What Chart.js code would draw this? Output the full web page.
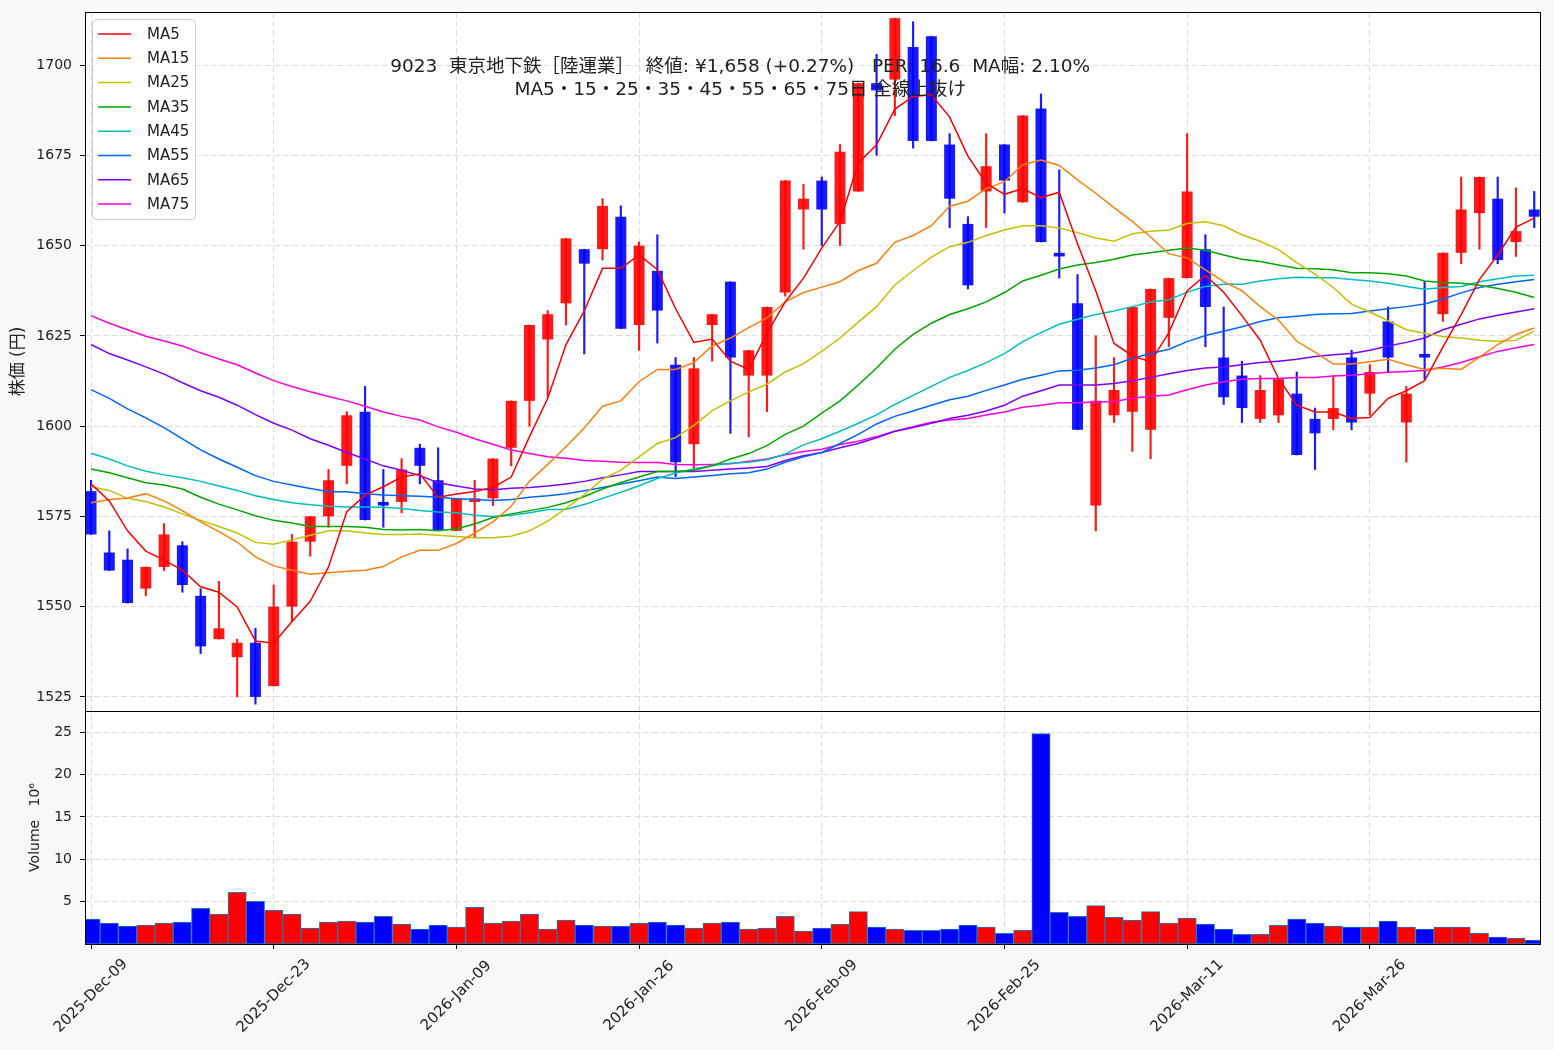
<!DOCTYPE html>
<html lang="ja">
  <head>
    <meta charset="UTF-8" />
    <title>9023 東京地下鉄</title>
    <style>
      * {
        margin: 0;
        padding: 0;
        box-sizing: border-box;
      }
      body {
        background: #f8f8f8;
      }
      #grafico {
        width: 1554px;
        height: 1050px;
      }
    </style>
  </head>
  <body>
    <div id="grafico">
      <canvas id="candles" width="1554" height="1050"></canvas>
    </div>

    <script src="https://cdn.jsdelivr.net/npm/chart.js"></script>
    <script>
      // x axis: trading-day index -> date label
      const tickIdx = [0, 10, 20, 30, 40, 50, 60, 70]
      const tickLabels = ['2025-Dec-09', '2025-Dec-23', '2026-Jan-09', '2026-Jan-26',
        '2026-Feb-09', '2026-Feb-25', '2026-Mar-11', '2026-Mar-26']
      const priceTicks = [1525, 1550, 1575, 1600, 1625, 1650, 1675, 1700]
      const volTicks = [5, 10, 15, 20, 25]

      const opens = [1582,1565,1563,1555,1561,1567,1553,1541,1536,1540,
        1528,1550,1568,1575,1589,1604,1579,1579,1594,1585,
        1571,1579,1580,1594,1607,1624,1634,1649,1649,1658,
        1628,1643,1617,1595,1628,1640,1614,1614,1637,1660,
        1668,1656,1665,1695,1696,1705,1708,1678,1656,1665,
        1678,1662,1688,1648,1634,1578,1603,1604,1599,1630,
        1641,1649,1619,1614,1602,1603,1609,1602,1602,1619,
        1609,1629,1601,1620,1631,1648,1659,1663,1651,1660]
      const highs = [1585,1571,1566,1561,1573,1568,1555,1557,1541,1544,
        1556,1570,1575,1588,1604,1611,1588,1591,1595,1594,
        1580,1585,1591,1607,1628,1632,1652,1649,1663,1661,
        1651,1653,1619,1619,1631,1640,1621,1633,1668,1667,
        1669,1678,1695,1703,1713,1712,1708,1681,1658,1681,
        1678,1686,1692,1671,1642,1625,1619,1633,1638,1641,
        1681,1653,1633,1618,1614,1613,1615,1605,1614,1621,
        1617,1633,1611,1640,1648,1669,1669,1669,1666,1665]
      const lows = [1570,1560,1551,1553,1560,1554,1537,1541,1525,1523,
        1528,1546,1564,1572,1584,1574,1572,1576,1584,1571,
        1571,1569,1578,1589,1600,1608,1628,1620,1646,1627,
        1621,1623,1586,1588,1618,1598,1597,1604,1636,1649,
        1650,1650,1665,1675,1686,1677,1679,1655,1638,1655,
        1659,1662,1651,1641,1599,1571,1601,1593,1591,1622,
        1641,1622,1606,1601,1601,1601,1592,1588,1599,1599,
        1603,1615,1590,1613,1629,1645,1649,1645,1647,1655]
      const closes = [1570,1560,1551,1561,1570,1556,1539,1544,1540,1525,
        1550,1568,1575,1585,1603,1574,1578,1588,1589,1571,
        1580,1580,1591,1607,1628,1631,1652,1645,1661,1627,
        1650,1632,1590,1616,1631,1619,1621,1633,1668,1663,
        1660,1676,1695,1693,1713,1679,1679,1663,1639,1672,
        1668,1686,1651,1647,1599,1607,1610,1633,1638,1641,
        1665,1633,1608,1605,1610,1613,1592,1598,1605,1601,
        1615,1619,1609,1619,1648,1660,1669,1646,1654,1658]
      // volume in millions of shares
      const volumes = [2.93,2.46,2.11,2.23,2.46,2.58,4.22,3.52,6.09,5.04,
        3.98,3.52,1.88,2.58,2.70,2.58,3.28,2.34,1.76,2.23,
        1.99,4.34,2.46,2.70,3.52,1.76,2.81,2.23,2.11,2.11,
        2.46,2.58,2.23,1.88,2.46,2.58,1.76,1.88,3.28,1.52,
        1.88,2.34,3.83,1.99,1.76,1.60,1.60,1.76,2.23,1.99,
        1.25,1.60,24.84,3.75,3.28,4.53,3.16,2.81,3.83,2.46,
        3.05,2.34,1.76,1.13,1.13,2.19,2.93,2.46,2.11,1.99,
        1.99,2.70,1.99,1.76,1.99,1.99,1.25,0.82,0.70,0.47]

      const ma5 = [1584.0,1579.3,1571.0,1565.4,1562.9,1560.1,1555.5,1554.0,1549.9,1540.5,
        1539.9,1545.9,1551.5,1561.0,1576.3,1580.9,1583.2,1585.9,1586.8,1580.3,
        1581.2,1581.9,1583.0,1585.9,1597.1,1607.7,1622.6,1631.9,1643.7,1643.7,
        1647.4,1643.4,1632.5,1623.2,1624.1,1618.0,1615.7,1625.7,1634.4,1641.0,
        1649.3,1656.7,1672.9,1677.9,1687.8,1691.3,1691.8,1685.6,1674.8,1667.3,
        1664.2,1665.8,1663.3,1664.8,1650.5,1637.5,1622.9,1619.5,1617.8,1625.9,
        1637.5,1641.8,1637.1,1630.6,1623.8,1613.2,1605.8,1603.9,1603.9,1602.1,
        1602.4,1607.7,1609.8,1612.6,1621.9,1630.9,1640.6,1647.4,1655.1,1657.6]
      const ma15 = [1578.8,1579.7,1580.1,1581.3,1579.3,1576.6,1573.5,1570.8,1567.9,1563.8,
        1561.3,1560.1,1559.0,1559.4,1559.8,1560.1,1561.1,1563.8,1565.6,1565.6,
        1567.5,1570.4,1573.5,1577.8,1584.7,1589.4,1594.3,1599.5,1605.5,1607.0,
        1612.3,1615.7,1615.7,1617.6,1622.2,1624.4,1627.3,1630.0,1634.4,1637.0,
        1638.5,1640.0,1643.1,1645.1,1650.9,1652.8,1655.5,1660.9,1662.3,1665.8,
        1667.7,1672.4,1673.7,1672.2,1668.2,1664.5,1660.5,1656.7,1652.4,1647.7,
        1646.6,1643.3,1640.0,1637.5,1633.1,1629.4,1623.5,1620.5,1617.2,1617.2,
        1617.8,1618.5,1617.0,1615.7,1616.0,1615.7,1619.1,1622.6,1625.4,1627.2]
      const ma25 = [1583.2,1582.2,1580.0,1579.1,1577.6,1575.7,1573.9,1572.2,1570.4,1567.8,
        1567.3,1568.5,1569.8,1571.0,1571.0,1570.4,1570.0,1570.0,1570.1,1569.8,
        1569.4,1569.1,1569.1,1569.5,1571.0,1573.7,1577.2,1581.0,1585.3,1587.8,
        1591.5,1595.2,1596.8,1600.2,1604.3,1607.0,1609.5,1611.6,1615.0,1617.3,
        1620.7,1624.4,1628.8,1633.1,1639.1,1643.1,1646.8,1649.7,1650.9,1652.8,
        1654.3,1655.5,1655.5,1654.9,1653.6,1652.1,1651.2,1653.3,1654.0,1654.3,
        1656.1,1656.6,1655.5,1653.0,1651.2,1648.9,1645.3,1642.1,1638.4,1633.8,
        1631.6,1629.2,1626.7,1625.7,1624.8,1624.4,1623.8,1623.5,1623.8,1626.3]
      const ma35 = [1588.1,1587.1,1585.7,1584.3,1583.7,1582.6,1580.3,1578.4,1576.8,1575.2,
        1573.9,1573.2,1572.2,1572.2,1572.2,1572.0,1571.4,1571.2,1571.4,1571.0,
        1571.6,1572.9,1574.7,1575.7,1576.6,1577.5,1578.8,1580.5,1582.6,1584.4,
        1585.9,1587.4,1587.4,1587.8,1589.0,1590.9,1592.4,1594.6,1597.7,1600.0,
        1603.6,1607.0,1611.4,1616.1,1621.3,1625.4,1628.5,1630.9,1632.5,1634.4,
        1637.0,1640.2,1641.8,1643.5,1644.6,1645.3,1646.2,1647.4,1648.0,1648.7,
        1649.3,1648.7,1647.4,1646.2,1645.6,1644.6,1643.7,1643.6,1643.3,1642.5,
        1642.5,1642.2,1641.6,1640.2,1639.8,1639.6,1639.0,1638.1,1637.1,1635.6]
      const ma45 = [1592.5,1590.9,1589.0,1587.5,1586.5,1585.7,1584.7,1583.4,1582.2,1580.7,
        1579.7,1578.8,1578.2,1577.8,1577.6,1577.6,1577.5,1577.2,1576.6,1576.2,
        1576.0,1575.3,1575.0,1575.3,1576.0,1576.9,1577.0,1578.3,1580.0,1581.7,
        1583.5,1585.5,1587.0,1588.1,1589.1,1589.7,1590.0,1590.7,1592.3,1594.8,
        1596.5,1598.6,1600.8,1603.1,1606.0,1608.5,1611.0,1613.5,1615.4,1617.6,
        1620.1,1623.4,1625.9,1628.2,1629.6,1630.9,1631.9,1633.1,1634.4,1635.0,
        1637.1,1638.7,1639.3,1639.3,1640.2,1640.8,1641.2,1641.1,1641.1,1640.6,
        1640.2,1639.6,1638.7,1637.9,1638.4,1638.7,1640.0,1640.8,1641.6,1641.8]
      const ma55 = [1610.1,1607.7,1604.8,1602.3,1599.6,1596.5,1593.4,1590.9,1588.6,1586.3,
        1584.7,1583.7,1582.7,1581.8,1581.8,1581.3,1580.9,1580.7,1580.6,1580.3,
        1579.9,1579.7,1579.4,1579.7,1580.3,1580.7,1581.3,1582.1,1583.0,1584.0,
        1584.9,1585.9,1585.5,1585.9,1586.3,1586.8,1587.1,1588.1,1590.0,1591.5,
        1592.7,1595.2,1597.7,1600.6,1602.7,1604.2,1605.8,1607.3,1608.3,1609.9,
        1611.4,1613.0,1614.1,1615.3,1615.5,1616.1,1617.0,1618.8,1620.1,1621.3,
        1623.4,1625.1,1626.3,1627.5,1629.0,1630.0,1630.4,1630.9,1631.1,1631.2,
        1631.9,1632.5,1633.1,1633.8,1635.2,1636.9,1638.4,1639.3,1640.0,1640.6]
      const ma65 = [1622.6,1620.1,1618.3,1616.4,1614.4,1612.0,1609.8,1608.0,1605.8,1603.2,
        1600.8,1598.9,1596.5,1594.7,1592.7,1590.9,1589.0,1587.8,1586.3,1584.3,
        1583.4,1582.6,1582.4,1582.8,1583.0,1583.4,1584.0,1584.7,1585.7,1586.5,
        1587.4,1587.4,1587.4,1587.4,1587.8,1588.1,1588.4,1588.8,1590.5,1591.8,
        1592.7,1594.0,1595.2,1596.8,1598.6,1599.6,1600.8,1602.1,1603.0,1604.2,
        1605.8,1608.3,1609.8,1611.4,1611.4,1611.4,1611.8,1612.6,1613.5,1614.5,
        1615.4,1616.1,1616.4,1617.0,1617.6,1618.0,1618.5,1619.3,1619.8,1620.1,
        1621.0,1622.2,1623.2,1624.4,1626.7,1628.2,1629.7,1630.7,1631.6,1632.5]
      const ma75 = [1630.6,1628.5,1626.7,1624.9,1623.6,1622.2,1620.3,1618.6,1617.0,1614.7,
        1612.6,1611.0,1609.5,1608.2,1607.0,1605.5,1603.9,1602.7,1601.7,1599.8,
        1598.3,1596.5,1595.0,1593.4,1592.4,1591.5,1591.1,1590.5,1590.3,1590.0,
        1589.9,1589.9,1589.4,1589.3,1589.4,1589.6,1590.3,1590.9,1592.1,1593.0,
        1593.6,1594.9,1595.8,1597.1,1598.6,1599.8,1601.1,1601.7,1602.1,1603.1,
        1603.9,1605.2,1605.8,1606.5,1606.5,1606.7,1606.8,1607.7,1608.3,1608.6,
        1610.1,1611.4,1612.3,1613.0,1613.2,1613.2,1613.5,1613.5,1613.9,1614.1,
        1614.5,1614.9,1615.1,1615.4,1616.4,1617.6,1619.2,1620.7,1621.7,1622.6]

      const titulo = [
        '9023  東京地下鉄［陸運業］  終値: ¥1,658 (+0.27%)   PER: 16.6  MA幅: 2.10%',
        'MA5・15・25・35・45・55・65・75日 全線上抜け'
      ]

      const medias = [
        ['MA5', ma5, '#ff0000'],
        ['MA15', ma15, '#ff7f0e'],
        ['MA25', ma25, '#c8c000'],
        ['MA35', ma35, '#00a800'],
        ['MA45', ma45, '#00bfbf'],
        ['MA55', ma55, '#0066ff'],
        ['MA65', ma65, '#8000ff'],
        ['MA75', ma75, '#ff00dd']
      ]

      const idx = closes.map((_, i) => i)
      const subiu = closes.map((c, i) => c >= opens[i])
      const corVela = subiu.map(s => s ? 'rgba(255,0,0,0.9)' : 'rgba(0,0,255,0.9)')
      const corVol = subiu.map(s => s ? '#ff0000' : '#0000ff')

      const datasets = medias.map(([label, vals, cor]) => ({
        type: 'line',
        label: label,
        data: vals.map((v, i) => ({ x: i, y: v })),
        borderColor: cor,
        backgroundColor: cor,
        borderWidth: 1.5,
        pointRadius: 0,
        tension: 0,
        yAxisID: 'y'
      }))
      datasets.push({
        type: 'bar',
        label: 'corpo',
        data: idx.map(i => ({ x: i, y: [opens[i], closes[i]] })),
        backgroundColor: corVela,
        barPercentage: 0.6,
        categoryPercentage: 1,
        grouped: false,
        yAxisID: 'y'
      })
      datasets.push({
        type: 'bar',
        label: 'pavio',
        data: idx.map(i => ({ x: i, y: [lows[i], highs[i]] })),
        backgroundColor: corVela,
        barThickness: 1.5,
        grouped: false,
        yAxisID: 'y'
      })
      datasets.push({
        type: 'bar',
        label: 'Volume',
        data: idx.map(i => ({ x: i, y: volumes[i] })),
        backgroundColor: corVol,
        borderColor: '#1f77b4',
        borderWidth: 1,
        borderSkipped: false,
        barPercentage: 1,
        categoryPercentage: 1,
        grouped: false,
        yAxisID: 'yv'
      })

      const fonte = '"DejaVu Sans", "Noto Sans CJK JP"'
      const fonteTick = { family: fonte, size: 14 }
      const grade = { color: '#dddddd', lineWidth: 1, tickColor: '#000', tickLength: 5, tickBorderDash: [], offset: false }

      // fixed axis box sizes, no extra label overhang padding
      const caixaY = s => { s.width = 85; s.paddingTop = 0; s.paddingBottom = 0 }

      // background, panel frames, date labels, legend and title
      const extras = {
        id: 'extras',
        beforeDraw(chart) {
          const { ctx, chartArea: a } = chart
          ctx.save()
          ctx.fillStyle = '#f8f8f8'
          ctx.fillRect(0, 0, chart.width, chart.height)
          ctx.fillStyle = '#ffffff'
          ctx.fillRect(a.left, a.top, a.right - a.left, a.bottom - a.top)
          ctx.restore()
        },
        afterDraw(chart) {
          const { ctx, chartArea: a, scales } = chart
          ctx.save()
          ctx.strokeStyle = '#000'
          ctx.lineWidth = 1
          ;[scales.y, scales.yv].forEach(s => {
            ctx.strokeRect(Math.round(a.left) + 0.5, Math.round(s.top) + 0.5,
              Math.round(a.right - a.left) - 1, Math.round(s.bottom - s.top))
          })

          // rotated date labels, centred under each tick
          ctx.fillStyle = '#222'
          ctx.font = '15px ' + fonte
          ctx.textAlign = 'center'
          ctx.textBaseline = 'middle'
          tickIdx.forEach((v, k) => {
            ctx.save()
            ctx.translate(scales.x.getPixelForValue(v), a.bottom + 52)
            ctx.rotate(-Math.PI / 4)
            ctx.fillText(tickLabels[k], 0, 0)
            ctx.restore()
          })

          // legend
          const lx = a.left + 7, ly = a.top + 7
          ctx.beginPath()
          ctx.roundRect(lx + 0.5, ly + 0.5, 103, 200, 4)
          ctx.fillStyle = 'rgba(255,255,255,0.85)'
          ctx.fill()
          ctx.strokeStyle = '#cccccc'
          ctx.stroke()
          ctx.font = '15px ' + fonte
          ctx.textAlign = 'left'
          medias.forEach(([label, , cor], k) => {
            const yy = ly + 15 + k * 24.3
            ctx.strokeStyle = cor
            ctx.lineWidth = 1.5
            ctx.beginPath()
            ctx.moveTo(lx + 6, yy)
            ctx.lineTo(lx + 39, yy)
            ctx.stroke()
            ctx.fillStyle = '#222'
            ctx.fillText(label, lx + 55, yy + 1)
          })

          // title
          ctx.fillStyle = '#222'
          ctx.textAlign = 'center'
          ctx.font = '18.5px ' + fonte
          const cx = a.left + 0.45 * (a.right - a.left)
          ctx.fillText(titulo[0], cx, a.top + 55)
          ctx.fillText(titulo[1], cx, a.top + 78)
          ctx.restore()
        }
      }

      const grafico = new Chart(document.getElementById('candles'), {
        type: 'bar',
        data: { datasets },
        options: {
          responsive: false,
          devicePixelRatio: 1,
          animation: false,
          layout: { padding: { top: 12, right: 13, bottom: 0, left: 0 } },
          plugins: {
            legend: { display: false },
            tooltip: { enabled: false }
          },
          scales: {
            x: {
              type: 'linear',
              position: 'bottom',
              min: -0.33,
              max: 79.37,
              offset: false,
              afterBuildTicks: s => { s.ticks = tickIdx.map(v => ({ value: v })) },
              afterFit: s => { s.height = 106; s.paddingLeft = 0; s.paddingRight = 0 },
              ticks: { display: false },
              grid: grade,
              border: { display: false, dash: [6, 3] }
            },
            yv: {
              type: 'linear',
              position: 'left',
              stack: 'paineis',
              stackWeight: 1,
              min: 0,
              max: 27.5,
              afterBuildTicks: s => { s.ticks = volTicks.map(v => ({ value: v })) },
              afterFit: caixaY,
              ticks: { font: fonteTick, color: '#222', padding: 8, callback: v => String(v) },
              grid: grade,
              border: { display: false, dash: [6, 3] },
              title: { display: true, text: 'Volume   10⁶', font: { family: fonte, size: 14 }, color: '#222', padding: { top: 27, bottom: 0 } }
            },
            y: {
              type: 'linear',
              position: 'left',
              stack: 'paineis',
              stackWeight: 3,
              min: 1521.1,
              max: 1714.7,
              afterBuildTicks: s => { s.ticks = priceTicks.map(v => ({ value: v })) },
              afterFit: caixaY,
              ticks: { font: fonteTick, color: '#222', padding: 8, callback: v => String(v) },
              grid: grade,
              border: { display: false, dash: [6, 3] },
              title: { display: true, text: '株価 (円)', font: { family: fonte, size: 17 }, color: '#222', padding: { top: 8, bottom: 0 } }
            }
          }
        },
        plugins: [extras]
      })
    </script>
  </body>
</html>
